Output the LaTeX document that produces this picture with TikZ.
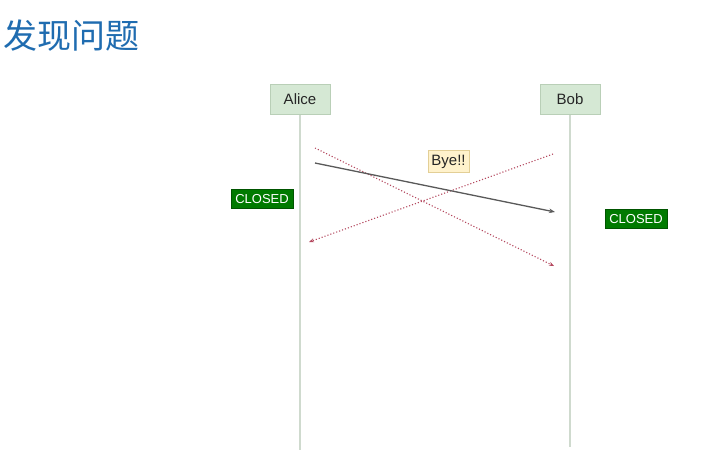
\documentclass[tikz,border=0pt]{standalone}
\usepackage{fontspec}
\setmainfont{Liberation Sans}
\newfontfamily\cjk{Noto Sans CJK SC}
\usetikzlibrary{arrows.meta}
\definecolor{titleblue}{HTML}{1F6CB0}
\definecolor{actorfill}{HTML}{D5E8D4}
\definecolor{actordraw}{HTML}{B9CFB7}
\definecolor{lifeline}{HTML}{CFDACE}
\definecolor{msgred}{HTML}{B5485F}
\definecolor{notefill}{HTML}{FFF2CC}
\definecolor{notedraw}{HTML}{E3CF96}
\definecolor{closedgreen}{HTML}{007A00}
\tikzset{
  actor/.style={draw=actordraw, line width=1pt, fill=actorfill, minimum width=60pt, minimum height=30pt, inner sep=0pt, text height=10.7pt, text depth=0.5pt, font=\fontsize{15}{17}\selectfont, text=black!85},
  life/.style={draw=lifeline, line width=1.3pt},
  lostmsg/.style={draw=msgred, dotted, line width=1.1pt, -{Stealth[length=5pt,width=4pt]}},
  goodmsg/.style={draw=black!65, line width=1.3pt, -{Stealth[length=6pt,width=4.5pt]}},
  note/.style={draw=notedraw, line width=1pt, fill=notefill, minimum width=41pt, minimum height=22pt, inner sep=0pt, text height=10.7pt, text depth=1pt, font=\fontsize{15}{17}\selectfont, text=black!85},
  closed/.style={fill=closedgreen, draw=closedgreen!70!black, text=white, minimum width=62pt, minimum height=19pt, inner sep=0pt, text height=9.3pt, text depth=0pt, font=\fontsize{13}{15}\selectfont},
}
\begin{document}
\begin{tikzpicture}[x=1pt,y=-1pt]
\useasboundingbox[fill=white] (0,0) rectangle (722,467);
\node[anchor=west, text=titleblue, font=\cjk\fontsize{34}{38}\selectfont, inner sep=0pt] (title) at (3,36) {发现问题};
\node[actor] (alice) at (300,99) {Alice};
\node[actor] (bob) at (570,99) {Bob};
\coordinate (aend) at (300,450);
\coordinate (bend) at (570,447);
\draw[life] (alice.south) -- (aend);
\draw[life] (bob.south) -- (bend);
\coordinate (m1s) at (315,148);
\coordinate (m1e) at (554,266);
\coordinate (m2s) at (553,154);
\coordinate (m2e) at (309,242);
\coordinate (m3s) at (315,163);
\coordinate (m3e) at (555,212);
\draw[lostmsg] (m1s) -- (m1e);
\draw[lostmsg] (m2s) -- (m2e);
\draw[goodmsg] (m3s) -- (m3e);
\node[note] (bye) at (448.5,161) {Bye!!};
\node[closed] (cl1) at (262,198.5) {CLOSED};
\node[closed] (cl2) at (636,218.5) {CLOSED};
\end{tikzpicture}
\end{document}
